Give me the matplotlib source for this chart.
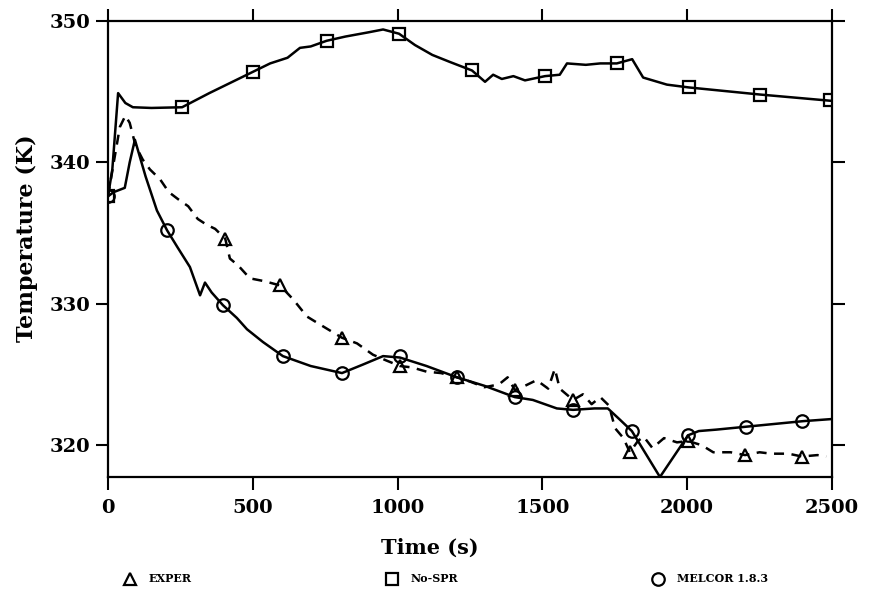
import matplotlib
matplotlib.use("Agg")
import matplotlib.pyplot as plt
from matplotlib.lines import Line2D

plt.rcParams['font.family'] = ['DejaVu Serif']
plt.rcParams['font.weight'] = 'bold'

# --- No-SPR (squares, solid)
nospr_t = [0, 15, 35, 60, 86, 150, 256, 350, 430, 500, 560, 620, 663, 700, 755,
           820, 900, 950, 1005, 1060, 1120, 1181, 1257, 1302, 1330, 1360, 1400,
           1440, 1509, 1560, 1585, 1650, 1700, 1757, 1810, 1848, 1930, 2006,
           2251, 2500]
nospr_T = [337.6, 339.5, 344.9, 344.2, 343.9, 343.85, 343.9, 344.9, 345.7, 346.4,
           347.0, 347.4, 348.1, 348.2, 348.6, 348.9, 349.2, 349.4, 349.1, 348.3,
           347.6, 347.1, 346.5, 345.7, 346.2, 345.9, 346.1, 345.8, 346.1, 346.2,
           347.0, 346.9, 347.0, 347.0, 347.3, 346.0, 345.5, 345.3, 344.8, 344.35]
nospr_mt = [0, 256, 500, 755, 1005, 1257, 1509, 1757, 2006, 2251, 2493]
nospr_mT = [337.6, 343.9, 346.4, 348.6, 349.1, 346.5, 346.1, 347.0, 345.3, 344.8, 344.4]

# --- MELCOR 1.8.3 (circles, solid)
melcor_t = [0, 20, 58, 75, 93, 130, 169, 204, 240, 283, 318, 335, 358, 397, 445,
            480, 535, 604, 700, 808, 880, 950, 1008, 1100, 1205, 1300, 1405,
            1467, 1550, 1606, 1680, 1726, 1768, 1809, 1906, 2003, 2040, 2100,
            2200, 2300, 2400, 2500]
melcor_T = [337.6, 337.9, 338.2, 340.0, 341.6, 339.0, 336.6, 335.2, 334.0, 332.6,
            330.6, 331.5, 330.8, 329.9, 329.0, 328.2, 327.3, 326.3, 325.6, 325.1,
            325.7, 326.3, 326.2, 325.6, 324.8, 324.2, 323.4, 323.2, 322.6, 322.5,
            322.6, 322.6, 321.8, 321.0, 317.75, 320.7, 321.0, 321.1, 321.3, 321.5,
            321.7, 321.85]
melcor_mt = [0, 204, 397, 604, 808, 1008, 1205, 1405, 1606, 1809, 2003, 2203, 2396]
melcor_mT = [337.6, 335.2, 329.9, 326.3, 325.1, 326.3, 324.8, 323.4, 322.5, 321.0,
             320.7, 321.3, 321.7]

# --- EXPER (triangles, dashed)
exper_t = [0, 20, 41, 60, 75, 95, 120, 145, 180, 210, 242, 277, 310, 340, 370,
           405, 421, 450, 490, 540, 594, 640, 687, 743, 808, 860, 915, 960, 1008,
           1050, 1100, 1150, 1205, 1250, 1300, 1350, 1380, 1405, 1440, 1480,
           1520, 1543, 1560, 1606, 1640, 1670, 1700, 1730, 1751, 1780, 1802,
           1830, 1850, 1880, 1920, 1965, 2003, 2050, 2090, 2150, 2200, 2250,
           2290, 2350, 2396, 2450, 2480]
exper_T = [337.6, 340.0, 342.5, 343.3, 342.8, 341.2, 340.2, 339.5, 338.8, 337.9,
           337.4, 336.9, 336.0, 335.6, 335.3, 334.6, 333.2, 332.7, 331.8, 331.6,
           331.3, 330.3, 329.1, 328.4, 327.6, 327.2, 326.4, 326.0, 325.6, 325.5,
           325.2, 325.1, 324.8, 324.5, 324.1, 324.3, 324.8, 323.9, 324.2, 324.6,
           324.0, 325.4, 324.0, 323.2, 323.6, 322.9, 323.4, 322.8, 321.2, 320.5,
           319.5, 320.3, 320.6, 319.8, 320.5, 320.2, 320.3, 320.0, 319.5, 319.5,
           319.3, 319.5, 319.4, 319.4, 319.2, 319.3, 319.2]
exper_mt = [405, 594, 808, 1008, 1205, 1405, 1606, 1802, 2003, 2200, 2396]
exper_mT = [334.6, 331.3, 327.6, 325.6, 324.8, 323.9, 323.2, 319.5, 320.3, 319.3, 319.2]

fig = plt.figure(figsize=(8.7, 5.93), dpi=100)
ax = fig.add_axes([0.1241, 0.1956, 0.8322, 0.7690])

mk = dict(linestyle='none', markerfacecolor='none', markeredgecolor='black',
          markersize=9, markeredgewidth=1.6)
ax.plot(nospr_t, nospr_T, color='black', lw=1.8)
ax.plot(nospr_mt, nospr_mT, marker='s', **mk)
ax.plot(melcor_t, melcor_T, color='black', lw=1.8)
ax.plot(melcor_mt, melcor_mT, marker='o', **mk)
ax.plot(exper_t, exper_T, color='black', lw=1.8, linestyle=(0, (4, 3)))
ax.plot(exper_mt, exper_mT, marker='^', **mk)

ax.set_xlim(0, 2500)
ax.set_ylim(317.75, 350)
ax.set_xticks([0, 500, 1000, 1500, 2000, 2500])
ax.set_yticks([320, 330, 340, 350])
for s in ax.spines.values():
    s.set_linewidth(1.6)
ax.tick_params(direction='out', length=9, width=1.5, top=True, right=True,
               labelsize=14)
ax.tick_params(axis='x', pad=7)
ax.tick_params(axis='y', pad=4)

ax.set_xlabel('Time (s)', fontsize=15, fontweight='bold')
ax.set_ylabel('Temperature (K)', fontsize=16, fontweight='bold')
ax.xaxis.set_label_coords(0.445, -0.156)
ax.xaxis.label.set_va('center')
ax.yaxis.set_label_coords(-0.112, 0.524)
ax.yaxis.label.set_va('center')

# legend entries along the bottom
entries = [('^', 'EXPER', 124.5), ('s', 'No-SPR', 386.5), ('o', 'MELCOR 1.8.3', 652.5)]
for m, lab, xl in entries:
    h = Line2D([], [], marker=m, **mk)
    leg = fig.legend([h], [lab], loc='center left',
                     bbox_to_anchor=(xl / 870, 1 - 579 / 593),
                     frameon=False, borderpad=0, borderaxespad=0,
                     handlelength=1, handletextpad=1.2,
                     prop={'size': 8, 'weight': 'bold'})

fig.savefig('out.png', dpi=100)
